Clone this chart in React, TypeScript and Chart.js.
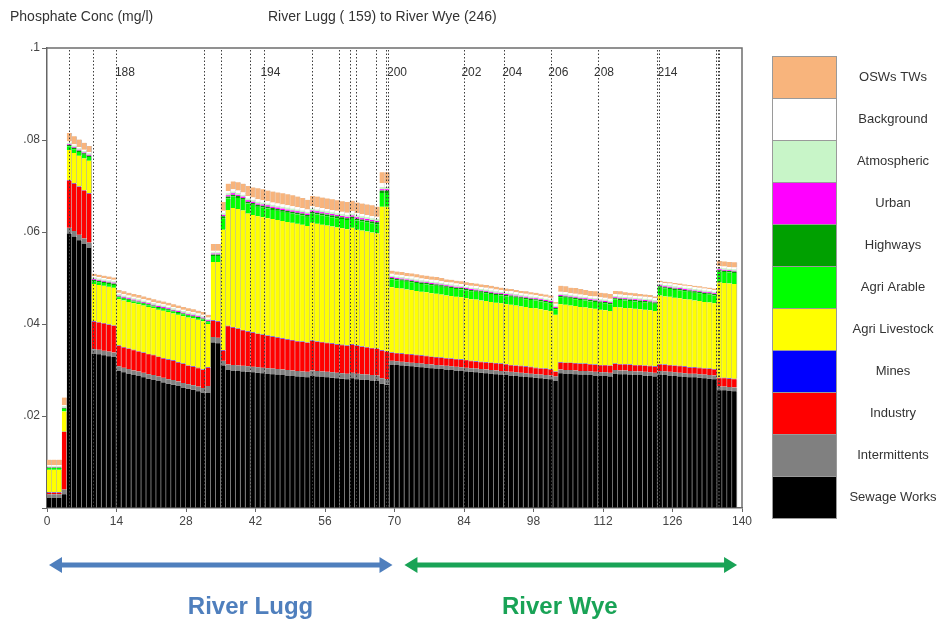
import React, { useEffect, useRef } from "react";
import { Chart, registerables } from "chart.js";

Chart.register(...registerables);

// ---- Data (mg/l), one value per 1 km reach bar, bars 0..138 ----
// regions: A3 B1 C5 D5 E18 E2:1 F0:2 F1:1 F31 S2 G33 Gd1 H11 I9 J12 K4
const sewageWorks = [
  .0022, .0022, .0022,
  .0030,
  .0597, .0590, .0582, .0574, .0565,
  .0335, .0334, .0332, .0330, .0328,
  .0298, .0295, .0292, .0289, .0287, .0284, .0281, .0279, .0276, .0273, .0270, .0268, .0265, .0262, .0259, .0257, .0254, .0251,
  .0250,
  .0360, .0358,
  .0310,
  .0300, .0299, .0298, .0297, .0296, .0295, .0294, .0293, .0292, .0291, .0290, .0289, .0288, .0287, .0286, .0285, .0284, .0287, .0286, .0285, .0284, .0283, .0282, .0281, .0280, .0282, .0280, .0279, .0278, .0277, .0276,
  .0270, .0268,
  .0312, .0311, .0310, .0309, .0308, .0307, .0306, .0305, .0304, .0303, .0302, .0301, .0300, .0299, .0298, .0297, .0296, .0295, .0294, .0293, .0292, .0291, .0290, .0289, .0288, .0287, .0286, .0285, .0284, .0283, .0282, .0281, .0280,
  .0276,
  .0293, .0292, .0292, .0291, .0290, .0290, .0289, .0288, .0287, .0287, .0286,
  .0292, .0291, .0291, .0290, .0289, .0289, .0288, .0287, .0286,
  .0290, .0289, .0288, .0287, .0286, .0285, .0284, .0284, .0283, .0282, .0281, .0280,
  .0256, .0256, .0255, .0254,
];

const intermittents = [
  .0008, .0008, .0008,
  .0010,
  .0012, .0012, .0012, .0012, .0012,
  .0010, .0010, .0010, .0010, .0010,
  .0010, .0010, .0010, .0010, .0010, .0010, .0010, .0010, .0010, .0010, .0010, .0010, .0010, .0010, .0010, .0010, .0010, .0010,
  .0015,
  .0012, .0012,
  .0010,
  .0012, .0012, .0012, .0012, .0012, .0012, .0012, .0012, .0012, .0012, .0012, .0012, .0012, .0012, .0012, .0012, .0012, .0012, .0012, .0012, .0012, .0012, .0012, .0012, .0012, .0012, .0012, .0012, .0012, .0012, .0012,
  .0012, .0012,
  .0008, .0008, .0008, .0008, .0008, .0008, .0008, .0008, .0008, .0008, .0008, .0008, .0008, .0008, .0008, .0008, .0008, .0008, .0008, .0008, .0008, .0008, .0008, .0008, .0008, .0008, .0008, .0008, .0008, .0008, .0008, .0008, .0008,
  .0010,
  .0008, .0008, .0008, .0008, .0008, .0008, .0008, .0008, .0008, .0008, .0008,
  .0008, .0008, .0008, .0008, .0008, .0008, .0008, .0008, .0008,
  .0008, .0008, .0008, .0008, .0008, .0008, .0008, .0008, .0008, .0008, .0008, .0008,
  .0008, .0008, .0008, .0008,
];

const industry = [
  .0003, .0003, .0003,
  .0125,
  .0103, .0103, .0104, .0104, .0106,
  .0060, .0059, .0059, .0058, .0058,
  .0044, .0044, .0044, .0044, .0043, .0043, .0043, .0043, .0042, .0042, .0042, .0042, .0041, .0041, .0040, .0040, .0040, .0039,
  .0040,
  .0035, .0035,
  .0022,
  .0083, .0081, .0079, .0077, .0075, .0074, .0072, .0071, .0070, .0069, .0068, .0067, .0066, .0065, .0064, .0064, .0063, .0064, .0063, .0063, .0062, .0062, .0061, .0061, .0060, .0061, .0060, .0059, .0059, .0058, .0058,
  .0060, .0060,
  .0017, .0017, .0017, .0017, .0017, .0017, .0017, .0017, .0016, .0016, .0016, .0016, .0016, .0016, .0016, .0016, .0015, .0015, .0015, .0015, .0015, .0015, .0015, .0015, .0014, .0014, .0014, .0014, .0014, .0013, .0013, .0013, .0013,
  .0010,
  .0015, .0015, .0015, .0015, .0015, .0015, .0015, .0015, .0015, .0015, .0015,
  .0013, .0013, .0013, .0013, .0013, .0013, .0013, .0013, .0013,
  .0014, .0014, .0014, .0014, .0014, .0014, .0013, .0013, .0013, .0013, .0013, .0013,
  .0018, .0018, .0018, .0018,
];

const mines = [
  .0001, .0001, .0001,
  .0001,
  .0001, .0001, .0001, .0001, .0001,
  .0001, .0001, .0001, .0001, .0001,
  .0001, .0001, .0001, .0001, .0001, .0001, .0001, .0001, .0001, .0001, .0001, .0001, .0001, .0001, .0001, .0001, .0001, .0001,
  .0001,
  .0001, .0001,
  .0001,
  .0001, .0001, .0001, .0001, .0001, .0001, .0001, .0001, .0001, .0001, .0001, .0001, .0001, .0001, .0001, .0001, .0001, .0001, .0001, .0001, .0001, .0001, .0001, .0001, .0001, .0001, .0001, .0001, .0001, .0001, .0001,
  .0001, .0001,
  .0001, .0001, .0001, .0001, .0001, .0001, .0001, .0001, .0001, .0001, .0001, .0001, .0001, .0001, .0001, .0001, .0001, .0001, .0001, .0001, .0001, .0001, .0001, .0001, .0001, .0001, .0001, .0001, .0001, .0001, .0001, .0001, .0001,
  .0001,
  .0001, .0001, .0001, .0001, .0001, .0001, .0001, .0001, .0001, .0001, .0001,
  .0001, .0001, .0001, .0001, .0001, .0001, .0001, .0001, .0001,
  .0001, .0001, .0001, .0001, .0001, .0001, .0001, .0001, .0001, .0001, .0001, .0001,
  .0001, .0001, .0001, .0001,
];

const agriLivestock = [
  .0049, .0049, .0049,
  .0044,
  .0065, .0066, .0067, .0069, .0071,
  .0081, .0081, .0081, .0082, .0082,
  .0101, .0101, .0101, .0101, .0102, .0102, .0102, .0101, .0102, .0103, .0103, .0102, .0103, .0103, .0104, .0104, .0104, .0105,
  .0094,
  .0127, .0129,
  .0262,
  .0252, .0259, .0260, .0260, .0256, .0255, .0255, .0255, .0255, .0255, .0255, .0255, .0255, .0255, .0255, .0254, .0253, .0256, .0256, .0255, .0255, .0254, .0254, .0253, .0253, .0253, .0252, .0252, .0251, .0251, .0250,
  .0312, .0314,
  .0142, .0141, .0141, .0140, .0140, .0139, .0138, .0138, .0138, .0138, .0137, .0136, .0136, .0135, .0135, .0134, .0134, .0134, .0133, .0133, .0132, .0131, .0131, .0130, .0131, .0130, .0129, .0129, .0128, .0129, .0128, .0127, .0126,
  .0123,
  .0126, .0126, .0124, .0124, .0123, .0122, .0121, .0121, .0120, .0119, .0118,
  .0123, .0123, .0122, .0122, .0122, .0121, .0121, .0121, .0120,
  .0149, .0148, .0148, .0147, .0147, .0146, .0147, .0145, .0145, .0144, .0144, .0143,
  .0207, .0206, .0206, .0206,
];

const agriArable = [
  .0004, .0004, .0004,
  .0005,
  .0008, .0008, .0008, .0008, .0008,
  .0006, .0006, .0006, .0006, .0006,
  .0004, .0004, .0004, .0004, .0004, .0004, .0004, .0004, .0004, .0004, .0004, .0004, .0004, .0004, .0004, .0004, .0004, .0004,
  .0004,
  .0013, .0013,
  .0025,
  .0025, .0025, .0024, .0023, .0022, .0022, .0021, .0021, .0021, .0020, .0020, .0020, .0020, .0020, .0020, .0020, .0020, .0020, .0020, .0020, .0020, .0020, .0020, .0020, .0020, .0020, .0020, .0020, .0020, .0020, .0020,
  .0030, .0030,
  .0017, .0017, .0017, .0017, .0017, .0017, .0017, .0017, .0017, .0017, .0017, .0017, .0017, .0017, .0017, .0017, .0017, .0017, .0017, .0017, .0017, .0017, .0017, .0017, .0017, .0017, .0017, .0017, .0017, .0017, .0017, .0017, .0017,
  .0012,
  .0015, .0015, .0015, .0015, .0015, .0015, .0015, .0015, .0015, .0015, .0015,
  .0016, .0016, .0016, .0016, .0016, .0016, .0016, .0016, .0016,
  .0017, .0017, .0017, .0017, .0017, .0017, .0017, .0017, .0017, .0017, .0017, .0017,
  .0024, .0024, .0024, .0024,
];

const highways = [
  .0001, .0001, .0001,
  .0002,
  .0003, .0003, .0003, .0003, .0003,
  .0003, .0003, .0003, .0003, .0003,
  .0002, .0002, .0002, .0002, .0002, .0002, .0002, .0002, .0002, .0002, .0002, .0002, .0002, .0002, .0002, .0002, .0002, .0002,
  .0002,
  .0003, .0003,
  .0004,
  .0004, .0004, .0004, .0004, .0004, .0004, .0004, .0004, .0004, .0004, .0004, .0004, .0004, .0004, .0004, .0004, .0004, .0004, .0004, .0004, .0004, .0004, .0004, .0004, .0004, .0004, .0004, .0004, .0004, .0004, .0004,
  .0005, .0005,
  .0003, .0003, .0003, .0003, .0003, .0003, .0003, .0003, .0003, .0003, .0003, .0003, .0003, .0003, .0003, .0003, .0003, .0003, .0003, .0003, .0003, .0003, .0003, .0003, .0003, .0003, .0003, .0003, .0003, .0003, .0003, .0003, .0003,
  .0003,
  .0003, .0003, .0003, .0003, .0003, .0003, .0003, .0003, .0003, .0003, .0003,
  .0003, .0003, .0003, .0003, .0003, .0003, .0003, .0003, .0003,
  .0003, .0003, .0003, .0003, .0003, .0003, .0003, .0003, .0003, .0003, .0003, .0003,
  .0003, .0003, .0003, .0003,
];

const urban = [
  .0001, .0001, .0001,
  .0001,
  .0002, .0002, .0002, .0002, .0002,
  .0002, .0002, .0002, .0002, .0002,
  .0002, .0002, .0002, .0002, .0002, .0002, .0002, .0002, .0002, .0002, .0002, .0002, .0002, .0002, .0002, .0002, .0002, .0002,
  .0002,
  .0002, .0002,
  .0003,
  .0003, .0003, .0003, .0003, .0003, .0003, .0003, .0003, .0003, .0003, .0003, .0003, .0003, .0003, .0003, .0003, .0003, .0003, .0003, .0003, .0003, .0003, .0003, .0003, .0003, .0003, .0003, .0003, .0003, .0003, .0003,
  .0003, .0003,
  .0002, .0002, .0002, .0002, .0002, .0002, .0002, .0002, .0002, .0002, .0002, .0002, .0002, .0002, .0002, .0002, .0002, .0002, .0002, .0002, .0002, .0002, .0002, .0002, .0002, .0002, .0002, .0002, .0002, .0002, .0002, .0002, .0002,
  .0002,
  .0002, .0002, .0002, .0002, .0002, .0002, .0002, .0002, .0002, .0002, .0002,
  .0002, .0002, .0002, .0002, .0002, .0002, .0002, .0002, .0002,
  .0002, .0002, .0002, .0002, .0002, .0002, .0002, .0002, .0002, .0002, .0002, .0002,
  .0002, .0002, .0002, .0002,
];

const atmospheric = [
  .0002, .0002, .0002,
  .0003,
  .0003, .0003, .0003, .0003, .0003,
  .0003, .0003, .0003, .0003, .0003,
  .0003, .0003, .0003, .0003, .0003, .0003, .0003, .0003, .0003, .0003, .0003, .0003, .0003, .0003, .0003, .0003, .0003, .0003,
  .0003,
  .0003, .0003,
  .0004,
  .0004, .0004, .0004, .0004, .0004, .0004, .0004, .0004, .0004, .0004, .0004, .0004, .0004, .0004, .0004, .0004, .0004, .0004, .0004, .0004, .0004, .0004, .0004, .0004, .0004, .0004, .0004, .0004, .0004, .0004, .0004,
  .0005, .0005,
  .0003, .0003, .0003, .0003, .0003, .0003, .0003, .0003, .0003, .0003, .0003, .0003, .0003, .0003, .0003, .0003, .0003, .0003, .0003, .0003, .0003, .0003, .0003, .0003, .0003, .0003, .0003, .0003, .0003, .0003, .0003, .0003, .0003,
  .0003,
  .0003, .0003, .0003, .0003, .0003, .0003, .0003, .0003, .0003, .0003, .0003,
  .0003, .0003, .0003, .0003, .0003, .0003, .0003, .0003, .0003,
  .0003, .0003, .0003, .0003, .0003, .0003, .0003, .0003, .0003, .0003, .0003, .0003,
  .0003, .0003, .0003, .0003,
];

const background = [
  .0002, .0002, .0002,
  .0003,
  .0003, .0003, .0003, .0003, .0003,
  .0003, .0003, .0003, .0003, .0003,
  .0003, .0003, .0003, .0003, .0003, .0003, .0003, .0003, .0003, .0003, .0003, .0003, .0003, .0003, .0003, .0003, .0003, .0003,
  .0003,
  .0003, .0003,
  .0005,
  .0005, .0005, .0005, .0005, .0005, .0005, .0005, .0005, .0005, .0005, .0005, .0005, .0005, .0005, .0005, .0005, .0005, .0005, .0005, .0005, .0005, .0005, .0005, .0005, .0005, .0005, .0005, .0005, .0005, .0005, .0005,
  .0008, .0008,
  .0004, .0004, .0004, .0004, .0004, .0004, .0004, .0004, .0004, .0004, .0004, .0004, .0004, .0004, .0004, .0004, .0004, .0004, .0004, .0004, .0004, .0004, .0004, .0004, .0004, .0004, .0004, .0004, .0004, .0004, .0004, .0004, .0004,
  .0004,
  .0004, .0004, .0004, .0004, .0004, .0004, .0004, .0004, .0004, .0004, .0004,
  .0004, .0004, .0004, .0004, .0004, .0004, .0004, .0004, .0004,
  .0004, .0004, .0004, .0004, .0004, .0004, .0004, .0004, .0004, .0004, .0004, .0004,
  .0004, .0004, .0004, .0004,
];

const oswsTws = [
  .0012, .0012, .0012,
  .0016,
  .0018, .0017, .0016, .0015, .0013,
  .0005, .0005, .0005, .0005, .0005,
  .0006, .0006, .0006, .0006, .0006, .0006, .0006, .0006, .0006, .0006, .0006, .0006, .0006, .0006, .0006, .0006, .0006, .0006,
  .0006,
  .0015, .0015,
  .0019,
  .0016, .0017, .0018, .0019, .0022, .0022, .0024, .0024, .0023, .0024, .0024, .0024, .0024, .0024, .0023, .0022, .0021, .0022, .0023, .0023, .0023, .0023, .0023, .0023, .0023, .0023, .0023, .0023, .0023, .0023, .0022,
  .0024, .0024,
  .0007, .0007, .0007, .0007, .0007, .0007, .0007, .0007, .0007, .0007, .0007, .0006, .0006, .0006, .0006, .0006, .0006, .0006, .0006, .0006, .0006, .0006, .0005, .0005, .0005, .0005, .0005, .0005, .0005, .0005, .0005, .0005, .0005,
  .0004,
  .0013, .0013, .0012, .0012, .0012, .0011, .0011, .0011, .0010, .0010, .0010,
  .0007, .0007, .0006, .0006, .0006, .0005, .0005, .0005, .0004,
  .0003, .0003, .0003, .0003, .0003, .0003, .0003, .0003, .0003, .0003, .0003, .0003,
  .0011, .0011, .0011, .0011,
];

// series, bottom to top
const seriesNames = ["Sewage Works", "Intermittents", "Industry", "Mines", "Agri Livestock", "Agri Arable", "Highways", "Urban", "Atmospheric", "Background", "OSWs TWs"];
const seriesValues = [sewageWorks, intermittents, industry, mines, agriLivestock, agriArable, highways, urban, atmospheric, background, oswsTws];
const seriesColors = ["#000000", "#808080", "#ff0000", "#0000ff", "#ffff00", "#00ff00", "#00a000", "#ff00ff", "#c8f5c8", "#ffffff", "#f8b47c"];
const seriesBorders = ["rgba(120,120,120,0.75)", "rgba(90,90,90,0.5)", "rgba(120,0,0,0.35)", "rgba(0,0,90,0.3)", "rgba(110,110,0,0.45)", "rgba(0,90,0,0.35)", "rgba(0,60,0,0.3)", "rgba(90,0,90,0.3)", "rgba(90,110,90,0.3)", "rgba(140,140,140,0.3)", "rgba(140,90,60,0.4)"];

// x-axis ticks (km)
const xTickValues = [0, 14, 28, 42, 56, 70, 84, 98, 112, 126, 140];
// reach boundaries (km) drawn as dotted lines
const reachBoundaries = [4.4, 9.3, 13.9, 31.7, 35.1, 40.9, 43.7, 53.4, 58.9, 61.1, 62.3, 66.3, 68.3, 68.7, 84.1, 92.1, 101.6, 110.9, 122.8, 123.2, 134.8, 135.1, 135.4];
// reach numbers shown near the top
const reachLabels = ["188", "194", "200", "202", "204", "206", "208", "214"];
const reachLabelKm = [15.7, 45.0, 70.5, 85.5, 93.7, 103.0, 112.2, 125.0];
// rivers shown under the axis
const riverNames = ["River Lugg", "River Wye"];
const riverFromKm = [0.4, 72.0];
const riverToKm = [69.6, 139.0];
const riverLabelKm = [41.0, 103.3];
const riverColors = ["#4f7fbd", "#19a356"];

const FONT = "'Liberation Sans', Arial, sans-serif";

function drawArrow(ctx: CanvasRenderingContext2D, x1: number, x2: number, y: number, color: string) {
  const head = 13, half = 8;
  ctx.save();
  ctx.strokeStyle = color;
  ctx.fillStyle = color;
  ctx.lineWidth = 5;
  ctx.beginPath();
  ctx.moveTo(x1 + head - 2, y);
  ctx.lineTo(x2 - head + 2, y);
  ctx.stroke();
  ctx.beginPath();
  ctx.moveTo(x1, y);
  ctx.lineTo(x1 + head, y - half);
  ctx.lineTo(x1 + head, y + half);
  ctx.closePath();
  ctx.fill();
  ctx.beginPath();
  ctx.moveTo(x2, y);
  ctx.lineTo(x2 - head, y - half);
  ctx.lineTo(x2 - head, y + half);
  ctx.closePath();
  ctx.fill();
  ctx.restore();
}

const overlayPlugin = {
  id: "overlay",
  afterDatasetsDraw(chart: any) {
    const { ctx, chartArea: a, scales } = chart;
    const x = scales.x;
    ctx.save();
    ctx.strokeStyle = "#3c3c3c";
    ctx.lineWidth = 1;
    ctx.setLineDash([1.5, 2]);
    reachBoundaries.forEach((b) => {
      const px = Math.round(x.getPixelForValue(b)) + 0.5;
      ctx.beginPath();
      ctx.moveTo(px, a.top + 2);
      ctx.lineTo(px, a.bottom);
      ctx.stroke();
    });
    ctx.setLineDash([]);
    ctx.strokeStyle = "#6e6e6e";
    ctx.lineWidth = 1.5;
    ctx.beginPath();
    ctx.moveTo(a.left, a.top);
    ctx.lineTo(a.right, a.top);
    ctx.lineTo(a.right, a.bottom);
    ctx.stroke();
    ctx.fillStyle = "#333";
    ctx.font = `12px ${FONT}`;
    ctx.textAlign = "center";
    ctx.textBaseline = "middle";
    reachLabels.forEach((t, i) => {
      ctx.fillText(t, x.getPixelForValue(reachLabelKm[i]), a.top + 25);
    });
    ctx.restore();
  },
  afterDraw(chart: any) {
    const { ctx, chartArea: a, scales } = chart;
    const x = scales.x;
    ctx.save();
    // titles
    ctx.fillStyle = "#333";
    ctx.font = `14px ${FONT}`;
    ctx.textBaseline = "middle";
    ctx.textAlign = "left";
    ctx.fillText("Phosphate Conc (mg/l)", 10, 17);
    ctx.fillText("River Lugg ( 159) to River Wye (246)", 268, 17);
    // legend
    const lx = 772, lw = 64, lh = 42, ly0 = 56;
    for (let k = 0; k < seriesNames.length; k++) {
      const idx = seriesNames.length - 1 - k;
      const y = ly0 + k * lh;
      ctx.fillStyle = seriesColors[idx];
      ctx.fillRect(lx, y, lw, lh);
      ctx.strokeStyle = "#9a9a9a";
      ctx.lineWidth = 1;
      ctx.strokeRect(lx + 0.5, y + 0.5, lw, lh);
      ctx.fillStyle = "#333";
      ctx.font = `13px ${FONT}`;
      ctx.textAlign = "center";
      ctx.fillText(seriesNames[idx], 893, y + lh / 2);
    }
    // river arrows and names
    const ay = a.bottom + 57;
    riverNames.forEach((n, i) => {
      drawArrow(ctx, x.getPixelForValue(riverFromKm[i]), x.getPixelForValue(riverToKm[i]), ay, riverColors[i]);
      ctx.fillStyle = riverColors[i];
      ctx.font = `bold 24px ${FONT}`;
      ctx.textAlign = "center";
      ctx.textBaseline = "middle";
      ctx.fillText(n, x.getPixelForValue(riverLabelKm[i]), a.bottom + 99);
    });
    ctx.restore();
  },
};

export default function App() {
  const ref = useRef<HTMLCanvasElement | null>(null);
  useEffect(() => {
    document.body.style.margin = "0";
    const canvas = ref.current;
    if (!canvas) return;
    const datasets = seriesValues.map((vals, s) => ({
      label: seriesNames[s],
      data: vals.map((v, i) => ({ x: i + 0.5, y: v })),
      backgroundColor: seriesColors[s],
      borderColor: seriesBorders[s],
      borderWidth: { top: 0, left: 0, bottom: 0, right: 1 },
      borderSkipped: false,
      barPercentage: 1,
      categoryPercentage: 1,
      stack: "all",
    }));
    const chart = new Chart(canvas, {
      type: "bar",
      data: { datasets } as any,
      options: {
        animation: false,
        responsive: false,
        devicePixelRatio: 1,
        layout: { padding: { left: 0, top: 48, right: 206, bottom: 95 } },
        plugins: { legend: { display: false }, tooltip: { enabled: false }, title: { display: false } },
        scales: {
          x: {
            type: "linear",
            stacked: true,
            min: 0,
            max: 140,
            offset: false,
            afterFit: (s: any) => { s.height = 20; },
            afterBuildTicks: (s: any) => { s.ticks = xTickValues.map((v) => ({ value: v })); },
            ticks: { font: { size: 12, family: FONT }, color: "#444", padding: 2, maxRotation: 0, autoSkip: false },
            grid: { display: true, drawOnChartArea: false, drawTicks: true, tickLength: 4, color: "#666", offset: false },
            border: { display: true, color: "#666", width: 1.5 },
          },
          y: {
            stacked: true,
            min: 0,
            max: 0.1,
            afterFit: (s: any) => { s.width = 47; },
            ticks: {
              stepSize: 0.02,
              font: { size: 12, family: FONT },
              color: "#444",
              padding: 2,
              callback: (v: any) => {
                const n = Number(v);
                if (n === 0) return "";
                if (Math.abs(n - 0.1) < 1e-9) return ".1";
                return n.toFixed(2).replace("0.", ".");
              },
            },
            grid: { display: true, drawOnChartArea: false, drawTicks: true, tickLength: 5, color: "#666" },
            border: { display: true, color: "#666", width: 1.5 },
          },
        },
      } as any,
      plugins: [overlayPlugin],
    });
    return () => chart.destroy();
  }, []);
  return <canvas ref={ref} width={948} height={623} style={{ display: "block", width: 948, height: 623 }} />;
}
